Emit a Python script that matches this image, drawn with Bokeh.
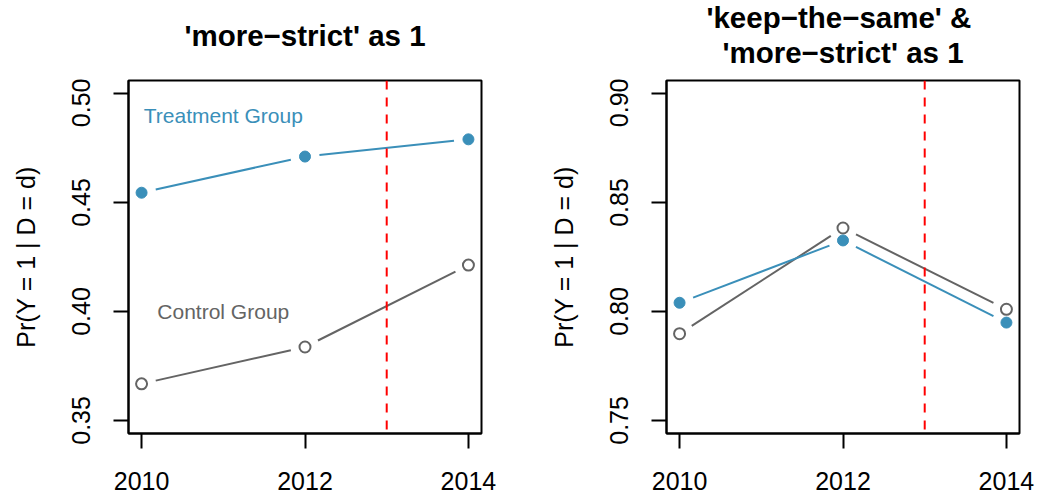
import math
from bokeh.plotting import figure
from bokeh.layouts import row, column
from bokeh.models import Range1d, FixedTicker, Span, Label, PrintfTickFormatter
from bokeh.embed import file_html
from bokeh.resources import INLINE

# ---------------- data ----------------
years = [2010, 2012, 2014]
x_ticks = [2010, 2012, 2014]
policy_year = 2013

left_treatment = [0.4545, 0.4711, 0.4790]
left_control = [0.3668, 0.3837, 0.4213]
left_ylim = [0.35, 0.50]
left_yticks = [0.35, 0.40, 0.45, 0.50]
left_title = ["'more\u2212strict' as 1"]

right_treatment = [0.8040, 0.8326, 0.7949]
right_control = [0.7898, 0.8383, 0.8010]
right_ylim = [0.75, 0.90]
right_yticks = [0.75, 0.80, 0.85, 0.90]
right_title = ["'keep\u2212the\u2212same' & ", "'more\u2212strict' as 1"]

y_label = "Pr(Y = 1 | D = d)"
treat_text = "Treatment Group"
ctrl_text = "Control Group"
treat_text_pos = [2011, 0.49]
ctrl_text_pos = [2011, 0.40]

# ---------------- style / layout ----------------
BLUE = "#3A8FB9"
GREY = "#646464"
FONT = "Liberation Sans"
FW, FH = 353, 353
GAP = 14.5
TOTAL_W = 1038
TITLE_H = 78
BORDER_L = [128, 139]
BORDER_R = [46, 19]


def gapped(xs, ys, sx, sy, gap):
    x0, y0, x1, y1 = [], [], [], []
    for i in range(len(xs) - 1):
        dxp = (xs[i + 1] - xs[i]) * sx
        dyp = (ys[i + 1] - ys[i]) * sy
        L = math.hypot(dxp, dyp)
        ux, uy = dxp / L, dyp / L
        x0.append(xs[i] + ux * gap / sx)
        y0.append(ys[i] + uy * gap / sy)
        x1.append(xs[i + 1] - ux * gap / sx)
        y1.append(ys[i + 1] - uy * gap / sy)
    return x0, y0, x1, y1


def panel(treat, ctrl, ylim, yticks, bl, br, labels):
    xspan = years[-1] - years[0]
    xr = (years[0] - 0.04 * xspan, years[-1] + 0.04 * xspan)
    yspan = ylim[1] - ylim[0]
    yr = (ylim[0] - 0.04 * yspan, ylim[1] + 0.04 * yspan)
    sx = FW / (xr[1] - xr[0])
    sy = FH / (yr[1] - yr[0])

    p = figure(frame_width=FW, frame_height=FH,
               x_range=Range1d(*xr), y_range=Range1d(*yr),
               output_backend="svg", toolbar_location=None, title=None,
               min_border_left=bl, min_border_right=br,
               min_border_top=2, min_border_bottom=65,
               background_fill_color="white", border_fill_color="white",
               outline_line_color="black", outline_line_width=2)
    p.xgrid.visible = False
    p.ygrid.visible = False

    for ax in (p.xaxis[0], p.yaxis[0]):
        ax.axis_line_color = "black"
        ax.axis_line_width = 2
        ax.major_tick_line_width = 2
        ax.major_tick_in = 0
        ax.major_tick_out = 15
        ax.minor_tick_line_color = None
        ax.major_label_text_font = FONT
        ax.major_label_text_font_size = "25px"
        ax.major_label_text_color = "black"

    p.xaxis.ticker = FixedTicker(ticks=x_ticks)
    p.xaxis.major_label_standoff = 23
    p.yaxis.ticker = FixedTicker(ticks=yticks)
    p.yaxis.formatter = PrintfTickFormatter(format="%.2f")
    p.yaxis.major_label_orientation = "vertical"
    p.yaxis.major_label_standoff = 23
    p.yaxis.axis_label = y_label
    p.yaxis.axis_label_text_font = FONT
    p.yaxis.axis_label_text_font_size = "25px"
    p.yaxis.axis_label_text_font_style = "normal"
    p.yaxis.axis_label_text_color = "black"
    p.yaxis.axis_label_standoff = 30

    p.add_layout(Span(location=policy_year, dimension="height",
                      line_color="#FF0000", line_dash="9 8", line_width=2))

    for ys, col, filled in ((ctrl, GREY, False), (treat, BLUE, True)):
        x0, y0, x1, y1 = gapped(years, ys, sx, sy, GAP)
        p.segment(x0=x0, y0=y0, x1=x1, y1=y1, line_color=col, line_width=2)
        if filled:
            p.scatter(x=years, y=ys, size=11, fill_color=col, line_color=col,
                      line_width=1)
        else:
            p.scatter(x=years, y=ys, size=11, fill_color=None, line_color=col,
                      line_width=2)

    if labels:
        p.add_layout(Label(x=treat_text_pos[0], y=treat_text_pos[1], text=treat_text,
                           text_align="center", text_baseline="middle",
                           text_font=FONT, text_font_size="21px", text_color=BLUE))
        p.add_layout(Label(x=ctrl_text_pos[0], y=ctrl_text_pos[1], text=ctrl_text,
                           text_align="center", text_baseline="middle",
                           text_font=FONT, text_font_size="21px", text_color=GREY))
    return p


p1 = panel(left_treatment, left_control, left_ylim, left_yticks,
           BORDER_L[0], BORDER_R[0], True)
p2 = panel(right_treatment, right_control, right_ylim, right_yticks,
           BORDER_L[1], BORDER_R[1], False)

# title strip: a pixel-scaled figure above the two panels
t = figure(width=TOTAL_W, height=TITLE_H, x_range=Range1d(0, TOTAL_W),
           y_range=Range1d(0, TITLE_H), x_axis_type=None, y_axis_type=None,
           output_backend="svg", toolbar_location=None, title=None,
           min_border=0, outline_line_color=None,
           background_fill_color="white", border_fill_color="white")
t.xgrid.visible = False
t.ygrid.visible = False

left_center = BORDER_L[0] + FW / 2
right_center = BORDER_L[0] + FW + BORDER_R[0] + BORDER_L[1] + FW / 2
title_specs = [(left_title[0], left_center, TITLE_H - 35),
               (right_title[0], right_center, TITLE_H - 17),
               (right_title[1], right_center, TITLE_H - 52)]
for txt, cx, by in title_specs:
    t.add_layout(Label(x=cx, y=by, text=txt, text_align="center",
                       text_baseline="alphabetic", text_font=FONT,
                       text_font_size="29.5px", text_font_style="bold",
                       text_color="black"))

layout = column(t, row(p1, p2))
open("out.html", "w").write(file_html(layout, INLINE))
